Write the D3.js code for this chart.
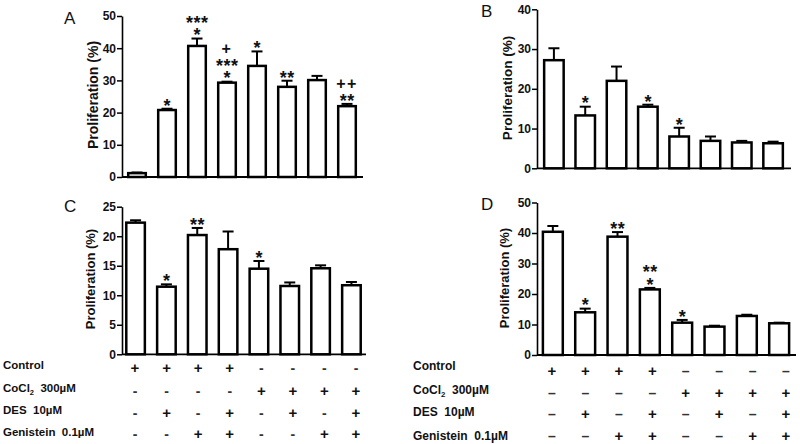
<!DOCTYPE html>
<html>
<head>
<meta charset="utf-8">
<script src="https://cdn.jsdelivr.net/npm/d3@7"></script>
<style>
  html, body { margin: 0; padding: 0; background: #fff; }
  svg { display: block; }
  text { font-family: "Liberation Sans", Arial, Helvetica, sans-serif; }
</style>
</head>
<body>
<svg id="chart" width="800" height="444"></svg>
<script>
// ---- data ----
const categories = ["G1", "G2", "G3", "G4", "G5", "G6", "G7", "G8"];

const valuesA = [1.2, 20.8, 40.7, 29.3, 34.5, 28.0, 30.1, 22.0];
const errorsA = [0.2, 0.4, 2.3, 0.3, 4.5, 1.9, 1.3, 0.7];
const annotA  = [[], ["*"], ["*", "***"], ["*", "***", "+"], ["*"], ["**"], [], ["**", "++"]];

const valuesB = [27.2, 13.3, 22.0, 15.5, 8.0, 6.9, 6.5, 6.3];
const errorsB = [3.0, 2.2, 3.6, 0.5, 2.2, 1.1, 0.4, 0.4];
const annotB  = [[], ["*"], [], ["*"], ["*"], [], [], []];

const valuesC = [22.3, 11.45, 20.2, 17.8, 14.5, 11.57, 14.57, 11.7];
const errorsC = [0.4, 0.4, 1.2, 3.0, 1.3, 0.6, 0.5, 0.55];
const annotC  = [[], ["*"], ["**"], [], ["*"], [], [], []];

const valuesD = [40.4, 14.0, 38.8, 21.5, 10.6, 9.3, 12.8, 10.4];
const errorsD = [1.9, 1.2, 1.5, 0.5, 0.9, 0.3, 0.4, 0.2];
const annotD  = [[], ["*"], ["**"], ["*", "**"], ["*"], [], [], []];

const ticksA = [0, 10, 20, 30, 40, 50];
const ticksB = [0, 10, 20, 30, 40];
const ticksC = [0, 5, 10, 15, 20, 25];
const ticksD = [0, 10, 20, 30, 40, 50];

const rowLabels = ["Control", "CoCl|2| 300µM", "DES 10µM", "Genistein 0.1µM"];
const rowControl   = ["+", "+", "+", "+", "-", "-", "-", "-"];
const rowCoCl2     = ["-", "-", "-", "-", "+", "+", "+", "+"];
const rowDES       = ["-", "+", "-", "+", "-", "+", "-", "+"];
const rowGenistein = ["-", "-", "+", "+", "-", "-", "+", "+"];
const yTitle = "Proliferation (%)";
const panelLetters = ["A", "B", "C", "D"];

// ---- drawing ----
const svg = d3.select("#chart");
const FONT = '"Liberation Sans", Arial, Helvetica, sans-serif';

function panel(cfg) {
  const g = svg.append("g");
  const y = d3.scaleLinear().domain([0, cfg.ymax]).range([cfg.y0, cfg.y1]);
  const x = d3.scaleBand().domain(categories)
    .range([cfg.xa, cfg.xb]).paddingInner(cfg.pi).paddingOuter(cfg.po);

  // y axis
  const ax = g.append("g").attr("transform", `translate(${cfg.xa},0)`)
    .call(d3.axisLeft(y).tickValues(cfg.ticks).tickSize(5).tickPadding(1).tickSizeOuter(0));
  ax.select(".domain").attr("stroke", "#000").attr("stroke-width", 1.6);
  ax.selectAll(".tick line").attr("stroke", "#000").attr("stroke-width", 1.5);
  ax.selectAll(".tick text").attr("font-family", FONT).attr("font-size", 12)
    .attr("font-weight", "bold").attr("fill", "#111");

  // x baseline
  g.append("line").attr("x1", cfg.xa).attr("x2", cfg.xb + 1)
    .attr("y1", y(0)).attr("y2", y(0)).attr("stroke", "#000").attr("stroke-width", 1.8);

  const data = categories.map((c, i) => ({ c, v: cfg.values[i], e: cfg.errors[i], a: cfg.annot[i] }));

  // error bars
  const eb = g.append("g");
  data.forEach(d => {
    const cx = x(d.c) + x.bandwidth() / 2;
    eb.append("line").attr("x1", cx).attr("x2", cx).attr("y1", y(d.v)).attr("y2", y(d.v + d.e))
      .attr("stroke", "#000").attr("stroke-width", 2);
    eb.append("line").attr("x1", cx - 5.5).attr("x2", cx + 5.5).attr("y1", y(d.v + d.e)).attr("y2", y(d.v + d.e))
      .attr("stroke", "#000").attr("stroke-width", 2);
  });

  // bars
  g.append("g").selectAll("rect").data(data).join("rect")
    .attr("x", d => x(d.c) + 1.2)
    .attr("width", x.bandwidth() - 2.4)
    .attr("y", d => y(d.v))
    .attr("height", d => y(0) - y(d.v))
    .attr("fill", "#fff").attr("stroke", "#000").attr("stroke-width", 2.5);

  // annotations (one text element per bar, stacked lines as tspans)
  data.forEach(d => {
    if (!d.a.length) return;
    const cx = x(d.c) + x.bandwidth() / 2;
    const t = g.append("text").attr("text-anchor", "middle").attr("font-weight", "bold").attr("fill", "#111");
    let cy = y(d.v + d.e) - 7.5;
    d.a.forEach(s => {
      const isStar = s.indexOf("*") >= 0;
      const fs = isStar ? 18 : 16;
      const base = isStar ? cy + 10.3 : cy + 5.6;
      t.append("tspan").attr("x", cx + (isStar ? 0.3 : 0)).attr("y", base)
        .attr("font-size", fs).attr("letter-spacing", isStar ? 0.5 : 1.5).text(s);
      cy -= 12.8;
    });
  });

  // y title
  g.append("text")
    .attr("transform", `translate(${cfg.tx},${cfg.ty}) rotate(-90)`)
    .attr("text-anchor", "middle").attr("font-size", cfg.tfs).attr("font-weight", "bold")
    .attr("fill", "#111").text(yTitle);

  // letter
  g.append("text").attr("x", cfg.lx).attr("y", cfg.ly).attr("font-size", 17)
    .attr("fill", "#111").text(cfg.letter);
}

panel({ letter: panelLetters[0], lx: 64, ly: 24, values: valuesA, errors: errorsA, annot: annotA,
  ymax: 50, ticks: ticksA, y0: 177, y1: 16, xa: 122, xb: 362, pi: 1/3, po: 1/6,
  tx: 97.5, ty: 95, tfs: 14 });
panel({ letter: panelLetters[1], lx: 481, ly: 17, values: valuesB, errors: errorsB, annot: annotB,
  ymax: 40, ticks: ticksB, y0: 168.3, y1: 9.3, xa: 537, xb: 790, pi: 0.3, po: 0.19,
  tx: 511.5, ty: 88, tfs: 13.5 });
panel({ letter: panelLetters[2], lx: 64, ly: 212, values: valuesC, errors: errorsC, annot: annotC,
  ymax: 25, ticks: ticksC, y0: 354.3, y1: 206.7, xa: 122, xb: 365, pi: 0.32, po: 0.1,
  tx: 95, ty: 279, tfs: 13 });
panel({ letter: panelLetters[3], lx: 481, ly: 210, values: valuesD, errors: errorsD, annot: annotD,
  ymax: 50, ticks: ticksD, y0: 355, y1: 202.5, xa: 537, xb: 795, pi: 0.31, po: 0.145,
  tx: 508.5, ty: 278, tfs: 13 });

// ---- condition tables ----
const rows = [rowControl, rowCoCl2, rowDES, rowGenistein];
function table(cfg) {
  const g = svg.append("g");
  const xs = d3.scalePoint().domain(categories).range([cfg.c0, cfg.c1]);
  rowLabels.forEach((lab, r) => {
    const t = g.append("text").attr("x", cfg.lx).attr("y", cfg.labY[r] + 4)
      .attr("font-size", cfg.fs).attr("font-weight", "bold").attr("fill", "#111")
      .attr("xml:space", "preserve").attr("style", "white-space:pre");
    const parts = lab.split("|");
    if (parts.length === 3) {
      t.append("tspan").text(parts[0]);
      t.append("tspan").attr("font-size", cfg.fs * 0.65).attr("dy", 3).text(parts[1]);
      t.append("tspan").attr("dy", -3).text("  " + parts[2].trim());
    } else {
      t.text(lab.replace(" ", "  "));
    }
    rows[r].forEach((s, i) => {
      const plus = s === "+";
      g.append("text").attr("x", xs(categories[i])).attr("y", cfg.symY[r] + (plus ? 5.3 : 4.5))
        .attr("text-anchor", "middle").attr("font-size", plus ? 15 : 14).attr("font-weight", "bold")
        .attr("fill", plus ? "#111" : "#333").text(plus ? "+" : cfg.minus);
    });
  });
}
table({ lx: 3, labY: [365, 388, 410, 432], symY: [368, 391, 413, 434], c0: 135, c1: 356, minus: "-", fs: 11.5 });
table({ lx: 413, labY: [366, 390, 412, 436], symY: [371, 393, 414, 436], c0: 552, c1: 786, minus: "–", fs: 12 });
</script>
</body>
</html>
